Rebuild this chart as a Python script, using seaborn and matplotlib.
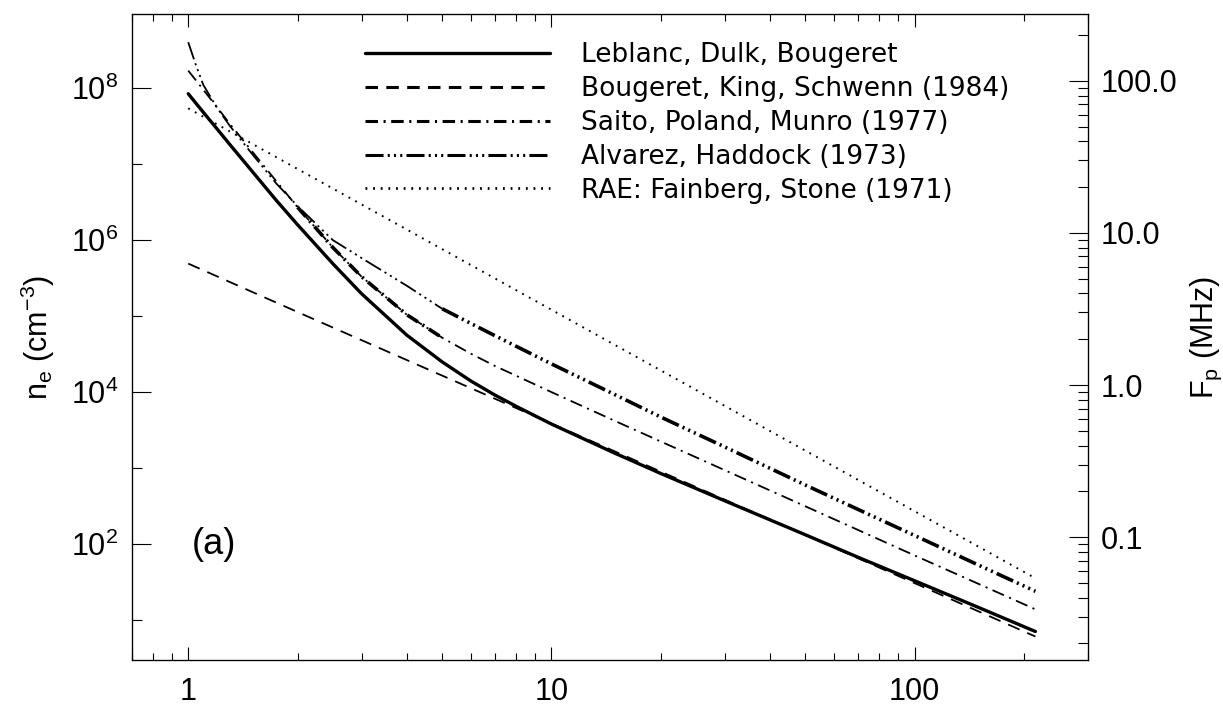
import numpy as np
import matplotlib
matplotlib.use("Agg")
import matplotlib.pyplot as plt
from matplotlib.lines import Line2D
from matplotlib.ticker import LogLocator, FixedLocator, NullFormatter
import seaborn as sns

# distance from the sun (solar radii) and electron density (cm^-3)
r_leblanc = [1, 1.05, 1.1, 1.2, 1.3, 1.5, 1.75, 2, 2.5, 3, 4, 5, 6, 7, 8, 10, 15, 20, 30, 50, 70, 100, 150, 215]
n_leblanc = [8.4e7, 6.3e7, 4.8e7, 2.9e7, 1.82e7, 8.0e6, 3.3e6, 1.59e6, 4.9e5, 1.97e5, 5.6e4, 2.5e4,
             1.4e4, 9.1e3, 6.5e3, 3.8e3, 1.56e3, 850, 372, 133, 67, 33, 14.7, 7.1]

r_bougeret = [1, 2, 5, 10, 20, 50, 100, 215]
n_bougeret = [4.9e5, 1.13e5, 1.65e4, 3.86e3, 900, 132, 30.7, 6.1]

r_saito = [1, 1.05, 1.1, 1.2, 1.3, 1.5, 1.75, 2, 2.5, 3, 4, 5, 6, 7, 8, 10, 15, 20, 30, 50, 70, 100, 150, 215]
n_saito = [1.69e8, 1.26e8, 9.5e7, 5.6e7, 3.4e7, 1.46e7, 5.9e6, 2.7e6, 8.0e5, 3.3e5, 1.04e5, 5.2e4,
           3.2e4, 2.2e4, 1.64e4, 1.0e4, 4.15e3, 2.24e3, 940, 315, 153, 71, 30, 13.9]

r_alvarez = [1, 1.05, 1.1, 1.2, 1.3, 1.5, 1.75, 2, 2.5, 3, 4, 5, 6, 7, 8, 10, 15, 20, 30, 50, 70, 100, 150, 215]
n_alvarez = [4.0e8, 2.0e8, 1.1e8, 5.5e7, 3.2e7, 1.35e7, 5.5e6, 2.8e6, 1.0e6, 5.8e5, 2.5e5, 1.25e5,
             8.0e4, 5.5e4, 4.0e4, 2.35e4, 9.2e3, 4.7e3, 1.9e3, 600, 285, 130, 53, 24]

r_rae = [1, 2, 5, 10, 20, 50, 100, 215]
n_rae = [5.4e7, 8.6e6, 7.6e5, 1.21e5, 1.93e4, 1.70e3, 271, 35.6]

labels = ["Leblanc, Dulk, Bougeret", "Bougeret, King, Schwenn (1984)",
          "Saito, Poland, Munro (1977)", "Alvarez, Haddock (1973)",
          "RAE: Fainberg, Stone (1971)"]

x_ticks = [1, 10, 100]
x_ticklabels = ["1", "10", "100"]
n_ticks = [1e2, 1e4, 1e6, 1e8]
n_ticklabels = ["10$^2$", "10$^4$", "10$^6$", "10$^8$"]
n_minor = [1e1, 1e3, 1e5, 1e7]
f_ticks = [0.1, 1, 10, 100]
f_ticklabels = ["0.1", "1.0", "10.0", "100.0"]

sns.set_style("ticks")
plt.rcParams["font.family"] = ["Liberation Sans", "DejaVu Sans"]
plt.rcParams["mathtext.default"] = "regular"
plt.rcParams["lines.scale_dashes"] = False
for k in ["text.color", "axes.labelcolor", "xtick.color", "ytick.color", "axes.edgecolor"]:
    plt.rcParams[k] = "black"

# line styles (dash patterns in points)
ls_dash = (0, (9, 6))
ls_dashdot = (0, (9, 4, 1.5, 4))
ls_dash3dot = (0, (13, 3, 1.5, 3, 1.5, 3, 1.5, 3))
ls_dot = (0, (1.3, 4.2))

fig = plt.figure(figsize=(12.23, 7.06), dpi=100)
ax = fig.add_axes([0.1079, 0.0652, 0.7817, 0.915])

r_s = np.array(r_saito)
n_s = np.array(n_saito)
r_a = np.array(r_alvarez)
n_a = np.array(n_alvarez)

sns.lineplot(x=r_leblanc, y=n_leblanc, ax=ax, color="black", lw=2.4, sort=False, estimator=None)
sns.lineplot(x=r_bougeret, y=n_bougeret, ax=ax, color="black", lw=1.3, ls=ls_dash, sort=False, estimator=None)
sns.lineplot(x=r_saito, y=n_saito, ax=ax, color="black", lw=1.3, ls=ls_dashdot, sort=False, estimator=None)
# Saito curve looks heavier between 2 and 5 Rsun
mid = (r_s >= 2) & (r_s <= 5)
sns.lineplot(x=r_s[mid], y=n_s[mid], ax=ax, color="black", lw=2.6, ls=ls_dashdot, sort=False, estimator=None)
inner = r_a <= 5
outer = r_a >= 5
sns.lineplot(x=r_a[inner], y=n_a[inner], ax=ax, color="black", lw=1.3, ls=ls_dash3dot, sort=False, estimator=None)
sns.lineplot(x=r_a[outer], y=n_a[outer], ax=ax, color="black", lw=2.6, ls=ls_dash3dot, sort=False, estimator=None)
sns.lineplot(x=r_rae, y=n_rae, ax=ax, color="black", lw=1.4, ls=ls_dot, sort=False, estimator=None)

ax.set_xscale("log")
ax.set_yscale("log")
ax.set_xlim(0.7, 300)
ymin, ymax = 3.0, 9.4e8
ax.set_ylim(ymin, ymax)

ax.xaxis.set_major_locator(FixedLocator(x_ticks))
ax.set_xticklabels(x_ticklabels)
ax.xaxis.set_minor_locator(LogLocator(base=10, subs=np.arange(2, 10)))
ax.xaxis.set_minor_formatter(NullFormatter())
ax.yaxis.set_major_locator(FixedLocator(n_ticks))
ax.set_yticklabels(n_ticklabels)
ax.yaxis.set_minor_locator(FixedLocator(n_minor))
ax.yaxis.set_minor_formatter(NullFormatter())

ax.tick_params(axis="x", which="major", direction="in", length=9.5, width=0.8, top=True, labelsize=22, pad=12)
ax.tick_params(axis="x", which="minor", direction="in", length=5, width=0.8, top=True)
ax.tick_params(axis="y", which="major", direction="in", length=14, width=0.8, right=False, labelsize=22, pad=10)
ax.tick_params(axis="y", which="minor", direction="in", length=7, width=0.8, right=False)
for s in ax.spines.values():
    s.set_linewidth(0.9)
    s.set_color("black")
ax.set_xlabel("")
ax.set_ylabel("n$_e$ (cm$^{-3}$)", fontsize=22, labelpad=10)

# plasma frequency axis, f_p = 8.98 kHz * sqrt(n_e)
ax2 = ax.twinx()
ax2.set_yscale("log")
ax2.set_ylim(8.98e-3 * np.sqrt(ymin), 8.98e-3 * np.sqrt(ymax))
ax2.yaxis.set_major_locator(FixedLocator(f_ticks))
ax2.set_yticklabels(f_ticklabels)
ax2.yaxis.set_minor_locator(LogLocator(base=10, subs=np.arange(2, 10)))
ax2.yaxis.set_minor_formatter(NullFormatter())
ax2.tick_params(axis="y", which="major", direction="in", length=14, width=0.8, labelsize=22, pad=9)
ax2.tick_params(axis="y", which="minor", direction="in", length=7, width=0.8)
ax2.set_ylabel("F$_p$ (MHz)", fontsize=22, labelpad=8)

ax.text(1.02, 100, "(a)", fontsize=26, ha="left", va="center")

handles = [
    Line2D([], [], color="black", lw=2.4),
    Line2D([], [], color="black", lw=2.2, ls=ls_dash),
    Line2D([], [], color="black", lw=2.2, ls=ls_dashdot),
    Line2D([], [], color="black", lw=2.2, ls=ls_dash3dot),
    Line2D([], [], color="black", lw=2.0, ls=ls_dot),
]
fig.legend(handles, labels, loc="upper left", bbox_to_anchor=(365 / 1223, 1 - 42 / 706),
           frameon=False, handlelength=7.0, handletextpad=1.2,
           labelspacing=0.3, borderpad=0, borderaxespad=0,
           prop={"family": ["DejaVu Sans"], "size": 19})

fig.savefig("out.png", dpi=100)
